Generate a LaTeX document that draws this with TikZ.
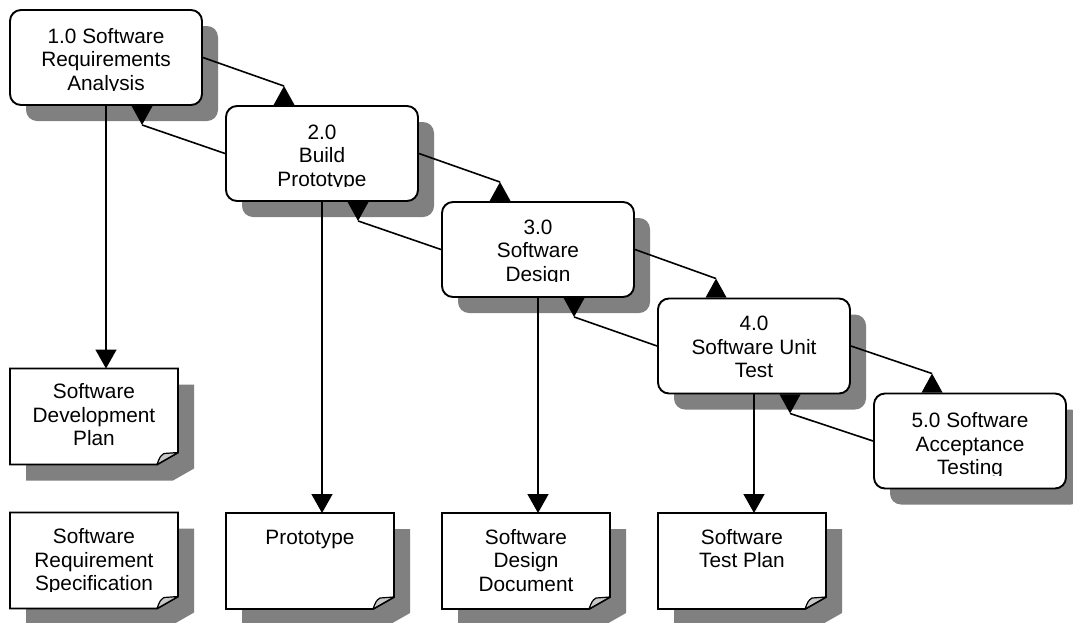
\documentclass[tikz,border=0pt]{standalone}
\usepackage{fontspec}
\setmainfont{Liberation Sans}
\usetikzlibrary{arrows.meta,shadows,calc}

\definecolor{shadowgray}{HTML}{808080}
\definecolor{foldgray}{HTML}{C8C8C8}

\tikzset{
  procbox/.style={draw=black, line width=1.9pt, fill=white, rounded corners=11pt,
    minimum width=192pt, minimum height=95pt, inner sep=0pt,
    drop shadow={shadow xshift=16pt, shadow yshift=-16pt, fill=shadowgray, opacity=1}},
  docbox/.style={inner sep=0pt, outer sep=0pt, minimum width=168pt, minimum height=96pt},
  lbl/.style={inner sep=0pt, align=center, anchor=north,
    font=\fontsize{20.8}{23.5}\selectfont},
  conn/.style={line width=1.6pt, draw=black},
  into/.style={conn, -{Triangle[length=19pt, width=21pt]}},
  headfill/.style={fill=black},
  paper/.style={draw=black, line width=1.9pt, fill=white, line join=miter},
  fold/.style={draw=black, line width=1.2pt, fill=foldgray, line join=round},
}

% document sheet with a curled lower right corner and a drop shadow
\newcommand\paperdoc[1]{%
  \fill[shadowgray] ([shift={(16,16)}]#1.north west) -- ([shift={(16,16)}]#1.north east)
    -- ([shift={(16,4)}]#1.south east) -- ([shift={(-5,16)}]#1.south east)
    -- ([shift={(16,16)}]#1.south west) -- cycle;
  \draw[paper] (#1.north west) -- (#1.north east) -- ([shift={(0,-12)}]#1.south east)
    -- ([shift={(-21,0)}]#1.south east) -- (#1.south west) -- cycle;
  \draw[fold] ([shift={(0,-12)}]#1.south east) -- ([shift={(-14,-11)}]#1.south east)
    .. controls ([shift={(-18,-8)}]#1.south east) .. ([shift={(-21,0)}]#1.south east) -- cycle;
}

% label text, cut off at the baseline of its third line
\newcommand\cliplabel[4]{%
  \begin{scope}
    \clip ([shift={(-2,0)}]#1.north west) rectangle ([shift={(2,#3+47.6)}]#1.north east);
    \node[lbl] (#2) at ([shift={(0,#3-16.45)}]#1.north) {\strut #4};
  \end{scope}}

% flow line from one step to the next: ends at a point-up triangle on the top edge
\newcommand\flowdown[3]{%
  \coordinate (#3) at ([shift={(59,-19)}]#2.north west);
  \draw[conn] (#1.east) -- (#3);
  \fill[headfill] (#3) -- ([shift={(-10.5,19)}]#3) -- ([shift={(10.5,19)}]#3) -- cycle;}
% flow line back to the previous step: ends at a point-down triangle on the bottom edge
\newcommand\flowback[3]{%
  \coordinate (#3) at ([shift={(133,19)}]#2.south west);
  \draw[conn] (#1.west) -- (#3);
  \fill[headfill] (#3) -- ([shift={(-10.5,-19)}]#3) -- ([shift={(10.5,-19)}]#3) -- cycle;}

\begin{document}
\begin{tikzpicture}[x=1pt, y=-1pt]
  \fill[white] (0,0) rectangle (1073,622);
  \useasboundingbox (0,0) rectangle (1073,622);

  % process steps
  \node[procbox] (b1) at (106,57.5) {};
  \node[procbox] (b2) at (322,153.5) {};
  \node[procbox] (b3) at (538,249.5) {};
  \node[procbox] (b4) at (754,346) {};
  \node[procbox] (b5) at (970,441) {};

  % produced documents
  \node[docbox] (d1) at (94,416.5) {};
  \node[docbox] (d2) at (94,560.5) {};
  \node[docbox] (d3) at (310,561) {};
  \node[docbox] (d4) at (526,561) {};
  \node[docbox] (d5) at (742,561) {};
  \paperdoc{d1}
  \paperdoc{d2}
  \paperdoc{d3}
  \paperdoc{d4}
  \paperdoc{d5}

  % texts
  \cliplabel{b1}{t1}{34}{1.0 Software\\Requirements\\Analysis}
  \cliplabel{b2}{t2}{34}{2.0\\Build\\Prototype}
  \cliplabel{b3}{t3}{33}{3.0\\Software\\Design}
  \cliplabel{b4}{t4}{33}{4.0\\Software Unit\\Test}
  \cliplabel{b5}{t5}{35}{5.0 Software\\Acceptance\\Testing}
  \cliplabel{d1}{u1}{30}{Software\\Development\\Plan}
  \cliplabel{d2}{u2}{31}{Software\\Requirement\\Specification}
  \cliplabel{d3}{u3}{31}{Prototype}
  \cliplabel{d4}{u4}{31}{Software\\Design\\Document}
  \cliplabel{d5}{u5}{31}{Software\\Test Plan}

  % forward and backward flow between steps
  \flowdown{b1}{b2}{a12}
  \flowdown{b2}{b3}{a23}
  \flowdown{b3}{b4}{a34}
  \flowdown{b4}{b5}{a45}
  \flowback{b2}{b1}{r21}
  \flowback{b3}{b2}{r32}
  \flowback{b4}{b3}{r43}
  \flowback{b5}{b4}{r54}

  % steps to their documents
  \draw[into] (b1.south) -- (b1.south |- d1.north);
  \draw[into] (b2.south) -- (b2.south |- d3.north);
  \draw[into] (b3.south) -- (b3.south |- d4.north);
  \draw[into] (b4.south) -- (b4.south |- d5.north);
\end{tikzpicture}
\end{document}
